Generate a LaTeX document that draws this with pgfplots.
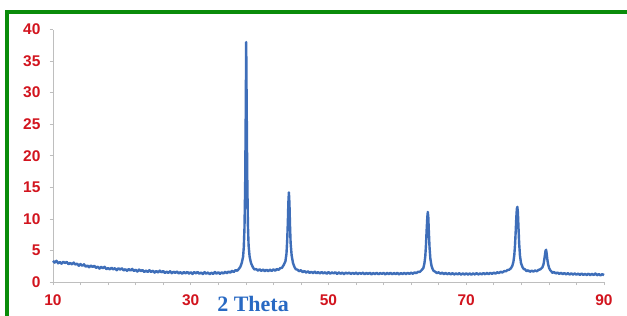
\documentclass[border=0pt]{standalone}
\usepackage{fontspec}
\setmainfont{Liberation Sans}
\newfontfamily\serifbold{Liberation Serif}
\usepackage{pgfplots}
\pgfplotsset{compat=1.18}
\definecolor{tickred}{RGB}{210,20,30}
\definecolor{lineblue}{RGB}{62,110,185}
\definecolor{labelblue}{RGB}{40,105,195}
\definecolor{framegreen}{RGB}{10,140,10}
\definecolor{axisgray}{RGB}{190,190,190}
\begin{document}
\begin{tikzpicture}
\useasboundingbox (-53pt,-34pt) rectangle (574pt,282pt);
\fill[white] (-53pt,-34pt) rectangle (574pt,282pt);
\draw[framegreen, line width=4pt] (-46pt,-34pt) -- (-46pt,270pt) -- (574pt,270pt);
\begin{axis}[
  at={(0,0)}, anchor=south west,
  scale only axis, width=551pt, height=252.5pt,
  xmin=10, xmax=90, ymin=0, ymax=40,
  axis x line=bottom, axis y line=left,
  axis line style={-, axisgray, line width=0.8pt},
  xtick={10,30,50,70,90},
  minor xtick={14,18,22,26,34,38,42,46,54,58,62,66,74,78,82,86},
  ytick={0,5,...,40},
  tick align=outside,
  major tick length=3pt, minor tick length=3pt,
  tick style={axisgray, line width=0.6pt},
  /pgf/number format/assume math mode=true,
  ticklabel style={font=\fontsize{15.5}{18}\selectfont\bfseries, text=tickred},
  xticklabel style={yshift=-6.5pt},
  yticklabel style={xshift=-6pt},
  clip=false,
]
\addplot[lineblue, line width=2.4pt, line join=round] table {
x y
10.00 3.35
10.25 3.08
10.50 3.36
10.75 2.96
11.00 3.17
11.25 2.90
11.50 3.20
11.75 3.01
12.00 3.18
12.25 2.82
12.50 3.02
12.75 2.79
13.00 3.08
13.25 2.77
13.50 2.91
13.75 2.57
14.00 2.85
14.25 2.56
14.50 2.80
14.75 2.43
15.00 2.61
15.25 2.33
15.50 2.62
15.75 2.38
16.00 2.57
16.25 2.23
16.50 2.43
16.75 2.12
17.00 2.41
17.25 2.18
17.50 2.41
17.75 2.03
18.00 2.22
18.25 2.00
18.50 2.27
18.75 2.00
19.00 2.19
19.25 1.87
19.50 2.18
19.75 1.97
20.00 2.18
20.25 1.83
20.50 2.03
20.75 1.77
21.00 2.06
21.25 1.81
21.50 2.07
21.75 1.74
22.00 1.95
22.25 1.65
22.50 1.97
22.75 1.73
23.00 1.90
23.25 1.59
23.50 1.81
23.75 1.59
24.00 1.87
24.25 1.59
24.50 1.79
24.75 1.49
25.00 1.74
25.25 1.50
25.50 1.80
25.75 1.53
26.00 1.74
26.25 1.42
26.50 1.64
26.75 1.44
27.00 1.71
27.25 1.39
27.50 1.63
27.75 1.45
28.00 1.67
28.25 1.35
28.50 1.56
28.75 1.31
29.00 1.59
29.25 1.37
29.50 1.60
29.75 1.32
30.00 1.56
30.25 1.28
30.50 1.58
30.75 1.37
31.00 1.60
31.25 1.30
31.50 1.51
31.75 1.26
32.00 1.56
32.25 1.30
32.50 1.52
32.75 1.23
33.00 1.48
33.25 1.27
33.50 1.58
33.75 1.32
34.00 1.55
34.25 1.27
34.50 1.53
34.75 1.34
35.00 1.63
35.25 1.38
35.50 1.66
35.75 1.48
36.00 1.77
36.25 1.58
36.50 1.88
36.75 1.78
37.00 2.10
37.20 2.4
37.40 3.0
37.60 4.0
37.70 5.5
37.80 8.5
37.90 15
37.98 26
38.05 38.0
38.12 28
38.20 17
38.30 9.0
38.40 5.8
38.55 4.0
38.75 3.0
38.95 2.5
39.10 2.2
39.25 1.98
39.50 2.06
39.75 1.80
40.00 2.02
40.25 1.76
40.50 1.98
40.75 1.72
41.00 1.95
41.25 1.70
41.50 1.96
41.75 1.75
42.00 2.00
42.25 1.78
42.50 2.05
42.75 1.92
43.00 2.20
43.25 2.25
43.50 2.70
43.75 3.3
43.90 4.5
44.00 6.5
44.10 9.5
44.17 12.5
44.25 14.2
44.33 12.5
44.41 9.0
44.50 6.2
44.65 4.2
44.85 3.0
45.05 2.4
45.25 2.02
45.50 1.95
45.75 1.70
46.00 1.88
46.25 1.55
46.50 1.75
46.75 1.48
47.00 1.70
47.25 1.45
47.50 1.62
47.75 1.40
48.00 1.66
48.25 1.38
48.50 1.58
48.75 1.33
49.00 1.60
49.25 1.36
49.50 1.55
49.75 1.30
50.00 1.58
50.25 1.32
50.50 1.52
50.75 1.36
51.00 1.55
51.25 1.28
51.50 1.52
51.75 1.30
52.00 1.50
52.25 1.24
52.50 1.49
52.75 1.32
53.00 1.50
53.25 1.26
53.50 1.46
53.75 1.28
54.00 1.50
54.25 1.24
54.50 1.45
54.75 1.30
55.00 1.48
55.25 1.22
55.50 1.44
55.75 1.27
56.00 1.47
56.25 1.20
56.50 1.43
56.75 1.25
57.00 1.46
57.25 1.22
57.50 1.42
57.75 1.28
58.00 1.45
58.25 1.20
58.50 1.44
58.75 1.24
59.00 1.46
59.25 1.22
59.50 1.43
59.75 1.25
60.00 1.45
60.25 1.20
60.50 1.42
60.75 1.26
61.00 1.45
61.25 1.24
61.50 1.46
61.75 1.28
62.00 1.48
62.25 1.30
62.50 1.52
62.75 1.40
63.00 1.62
63.25 1.60
63.50 1.85
63.77 2.2
63.92 2.9
64.05 4.0
64.15 5.8
64.25 8.2
64.35 10.3
64.42 11.1
64.49 10.3
64.57 8.0
64.67 5.5
64.79 3.7
64.95 2.6
65.10 2.1
65.25 1.78
65.50 1.62
65.75 1.40
66.00 1.55
66.25 1.30
66.50 1.48
66.75 1.25
67.00 1.44
67.25 1.22
67.50 1.42
67.75 1.20
68.00 1.40
68.25 1.18
68.50 1.38
68.75 1.20
69.00 1.40
69.25 1.16
69.50 1.37
69.75 1.18
70.00 1.38
70.25 1.17
70.50 1.36
70.75 1.15
71.00 1.38
71.25 1.18
71.50 1.40
71.75 1.18
72.00 1.38
72.25 1.20
72.50 1.42
72.75 1.22
73.00 1.44
73.25 1.24
73.50 1.46
73.75 1.28
74.00 1.50
74.25 1.32
74.50 1.55
74.75 1.42
75.00 1.62
75.25 1.50
75.50 1.72
75.75 1.70
76.00 1.90
76.25 1.95
76.50 2.20
76.70 2.6
76.85 3.2
76.98 4.3
77.08 5.8
77.18 8.0
77.27 10.2
77.35 11.6
77.42 11.9
77.50 11.0
77.58 8.8
77.68 6.2
77.80 4.2
77.95 3.0
78.15 2.4
78.35 2.05
78.55 2.00
78.75 1.72
79.00 1.85
79.25 1.62
79.50 1.80
79.75 1.65
80.00 1.82
80.25 1.70
80.50 1.92
80.75 2.00
81.05 2.3
81.22 2.8
81.34 3.6
81.44 4.4
81.52 5.0
81.60 5.1
81.68 4.5
81.77 3.6
81.89 2.8
82.04 2.2
82.20 1.85
82.35 1.70
82.50 1.45
82.75 1.58
83.00 1.35
83.25 1.50
83.50 1.28
83.75 1.46
84.00 1.25
84.25 1.42
84.50 1.20
84.75 1.40
85.00 1.18
85.25 1.38
85.50 1.16
85.75 1.36
86.00 1.15
86.25 1.35
86.50 1.12
86.75 1.34
87.00 1.12
87.25 1.30
87.50 1.10
87.75 1.32
88.00 1.08
88.25 1.30
88.50 1.10
88.75 1.35
89.00 1.05
89.25 1.28
89.50 1.05
89.75 1.24
90.00 1.10
};
\node[anchor=base, text=labelblue, font=\fontsize{22}{26}\selectfont\serifbold\bfseries]
  at (axis cs:39.04,0) [yshift=-29pt] {2 Theta};
\end{axis}
\end{tikzpicture}
\end{document}
